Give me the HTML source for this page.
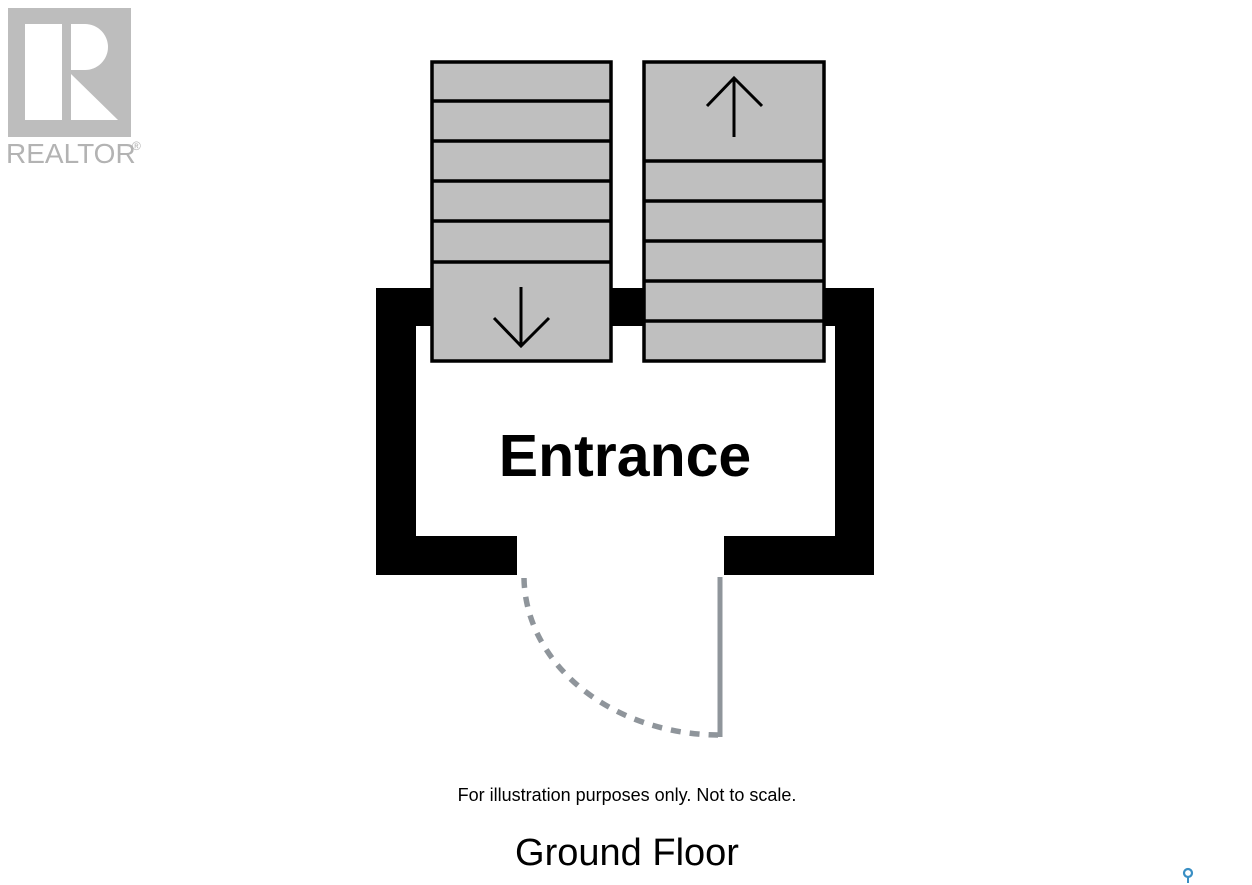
<!DOCTYPE html>
<html><head><meta charset="utf-8"><style>
html,body{margin:0;padding:0;background:#fff;}
svg{display:block;}
</style></head><body>
<svg width="1252" height="885" viewBox="0 0 1252 885" xmlns="http://www.w3.org/2000/svg">
<!-- Realtor logo -->
<rect x="8" y="8" width="123" height="129" fill="#bdbdbd"/>
<rect x="25" y="24" width="37" height="96" fill="#fff"/>
<path d="M71 24 H85 A23 23 0 0 1 85 70 H71 Z" fill="#fff"/>
<path d="M71 74 L118 120 H71 Z" fill="#fff"/>
<text x="6" y="163" font-family="Liberation Sans, sans-serif" font-size="28" fill="#b3b3b3">REALTOR</text>
<text x="132" y="150" font-family="Liberation Sans, sans-serif" font-size="12" fill="#b3b3b3">®</text>

<!-- walls -->
<g fill="#000">
<rect x="376" y="288" width="40" height="287"/>
<rect x="376" y="288" width="60" height="38"/>
<rect x="608" y="288" width="38" height="38"/>
<rect x="822" y="288" width="52" height="38"/>
<rect x="835" y="288" width="39" height="287"/>
<rect x="376" y="536" width="141" height="39"/>
<rect x="724" y="536" width="150" height="39"/>
</g>

<!-- left stair -->
<g stroke="#000" stroke-width="3.5" fill="none">
<rect x="432" y="62" width="179" height="299" fill="#bfbfbf"/>
<line x1="432" y1="101" x2="611" y2="101"/>
<line x1="432" y1="141" x2="611" y2="141"/>
<line x1="432" y1="181" x2="611" y2="181"/>
<line x1="432" y1="221" x2="611" y2="221"/>
<line x1="432" y1="262" x2="611" y2="262"/>
<line x1="521" y1="287" x2="521" y2="346" stroke-width="3"/>
<polyline points="494,318 521,346 549,318" stroke-width="3"/>
<!-- right stair -->
<rect x="644" y="62" width="180" height="299" fill="#bfbfbf"/>
<line x1="644" y1="161" x2="824" y2="161"/>
<line x1="644" y1="201" x2="824" y2="201"/>
<line x1="644" y1="241" x2="824" y2="241"/>
<line x1="644" y1="281" x2="824" y2="281"/>
<line x1="644" y1="321" x2="824" y2="321"/>
<line x1="734" y1="78" x2="734" y2="137" stroke-width="3"/>
<polyline points="707,106 734,78 762,106" stroke-width="3"/>
</g>

<!-- door -->
<line x1="720" y1="577" x2="720" y2="737" stroke="#8f959b" stroke-width="5"/>
<path d="M524 578 A196 159 0 0 0 718 735" fill="none" stroke="#8f959b" stroke-width="5.5" stroke-dasharray="10 9"/>

<!-- text -->
<text x="625" y="476" text-anchor="middle" font-family="Liberation Sans, sans-serif" font-weight="bold" font-size="59" fill="#000">Entrance</text>
<text x="627" y="801" text-anchor="middle" font-family="Liberation Sans, sans-serif" font-size="18" fill="#000">For illustration purposes only. Not to scale.</text>
<text x="627" y="865" text-anchor="middle" font-family="Liberation Sans, sans-serif" font-size="38" fill="#000">Ground Floor</text>

<!-- pin -->
<circle cx="1188" cy="873" r="4" fill="none" stroke="#3a8fc4" stroke-width="2.2"/>
<line x1="1188" y1="877" x2="1188" y2="883" stroke="#3a8fc4" stroke-width="2"/>
</svg>
</body></html>
